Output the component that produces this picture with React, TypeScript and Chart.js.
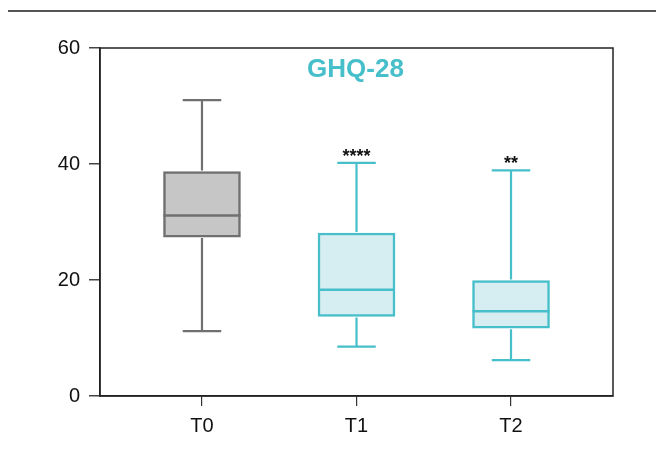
import React, { useEffect, useRef } from "react";
import { Chart, registerables } from "chart.js";

Chart.register(...registerables);

const categories = ["T0", "T1", "T2"];
const whiskerMin = [11.2, 8.5, 6.2];
const q1 = [27.4, 13.7, 11.7];
const median = [31.1, 18.3, 14.6];
const q3 = [38.7, 28.1, 19.9];
const whiskerMax = [51, 40.2, 38.9];
const significance = ["", "****", "**"];
const yTicks = [0, 20, 40, 60];

const strokeColors = ["#707070", "#47bfcb", "#47bfcb"];
const fillColors = ["#c6c6c6", "#d6edf1", "#d6edf1"];
const titleText = "GHQ-28";
const FONT = "'Liberation Sans', Arial, Helvetica, sans-serif";

const boxPlugin = {
  id: "boxExtras",
  afterDatasetsDraw(chart: any) {
    const ctx = chart.ctx;
    const xs = chart.scales.x;
    const ys = chart.scales.y;
    const meta = chart.getDatasetMeta(0);
    ctx.save();
    categories.forEach((_, i) => {
      const el = meta.data[i];
      const cx = xs.getPixelForValue(i);
      const w = el ? el.width : 76;
      const yMin = ys.getPixelForValue(whiskerMin[i]);
      const yQ1 = ys.getPixelForValue(q1[i]);
      const yMed = ys.getPixelForValue(median[i]);
      const yQ3 = ys.getPixelForValue(q3[i]);
      const yMax = ys.getPixelForValue(whiskerMax[i]);
      ctx.strokeStyle = strokeColors[i];
      ctx.lineCap = "butt";
      ctx.lineWidth = 2.2;
      ctx.beginPath();
      ctx.moveTo(cx, yQ3 - 1);
      ctx.lineTo(cx, yMax);
      ctx.moveTo(cx, yQ1 + 1);
      ctx.lineTo(cx, yMin);
      ctx.moveTo(cx - w / 4, yMax);
      ctx.lineTo(cx + w / 4, yMax);
      ctx.moveTo(cx - w / 4, yMin);
      ctx.lineTo(cx + w / 4, yMin);
      ctx.stroke();
      ctx.lineWidth = 2.5;
      ctx.beginPath();
      ctx.moveTo(cx - w / 2, yMed);
      ctx.lineTo(cx + w / 2, yMed);
      ctx.stroke();
      if (significance[i]) {
        ctx.fillStyle = "#111";
        ctx.font = `bold 18px ${FONT}`;
        ctx.textAlign = "center";
        ctx.textBaseline = "alphabetic";
        ctx.fillText(significance[i], cx, yMax - 1);
      }
    });
    const a = chart.chartArea;
    ctx.strokeStyle = "#222";
    ctx.lineWidth = 1.5;
    ctx.strokeRect(a.left, a.top, a.right - a.left, a.bottom - a.top);
    ctx.fillStyle = "#47bfcb";
    ctx.font = `bold 26px ${FONT}`;
    ctx.textAlign = "center";
    ctx.textBaseline = "alphabetic";
    ctx.fillText(titleText, (a.left + a.right) / 2 - 1, a.top + 29);
    ctx.restore();
  },
};

export default function App() {
  const ref = useRef<HTMLCanvasElement | null>(null);
  useEffect(() => {
    if (!ref.current) return;
    const chart = new Chart(ref.current, {
      type: "bar",
      data: {
        datasets: [
          {
            data: categories.map((_, i) => ({ x: i, y: [q1[i], q3[i]] })) as any,
            backgroundColor: fillColors,
            borderColor: strokeColors,
            borderWidth: 2.5,
            borderSkipped: false,
            barThickness: 77,
          },
        ],
      },
      options: {
        animation: false,
        responsive: false,
        maintainAspectRatio: false,
        layout: { padding: { left: 0, right: 43, top: 48, bottom: 0 } },
        plugins: {
          legend: { display: false },
          tooltip: { enabled: false },
          title: { display: false },
        },
        scales: {
          x: {
            type: "linear",
            offset: false,
            min: -0.66,
            max: 2.66,
            afterBuildTicks: (scale: any) => {
              scale.ticks = categories.map((_, i) => ({ value: i }));
            },
            afterFit: (scale: any) => {
              scale.height = 56;
            },
            ticks: {
              callback: (v: any) => categories[v] ?? "",
              color: "#111",
              font: { family: FONT, size: 20 },
              padding: 8,
              maxRotation: 0,
            },
            grid: { display: true, offset: false, drawOnChartArea: false, tickLength: 10, color: "#333", lineWidth: 1.2 },
            border: { display: true, color: "#222", width: 1.5 },
          },
          y: {
            type: "linear",
            min: 0,
            max: 60,
            afterBuildTicks: (scale: any) => {
              scale.ticks = yTicks.map((v) => ({ value: v }));
            },
            afterFit: (scale: any) => {
              scale.width = 100;
            },
            ticks: {
              color: "#111",
              font: { family: FONT, size: 20 },
              padding: 9,
            },
            grid: { display: true, drawOnChartArea: false, tickLength: 11, color: "#444", lineWidth: 1.5 },
            border: { display: true, color: "#222", width: 1.5 },
          },
        },
      },
      plugins: [boxPlugin],
    });
    return () => chart.destroy();
  }, []);
  return (
    <div style={{ position: "absolute", left: 0, top: 0, width: 656, height: 452 }}>
      <div style={{ position: "absolute", left: 8, right: 0, top: 10, height: 2, background: "#555" }} />
      <canvas ref={ref} width={656} height={452} style={{ position: "absolute", left: 0, top: 0 }} />
    </div>
  );
}
